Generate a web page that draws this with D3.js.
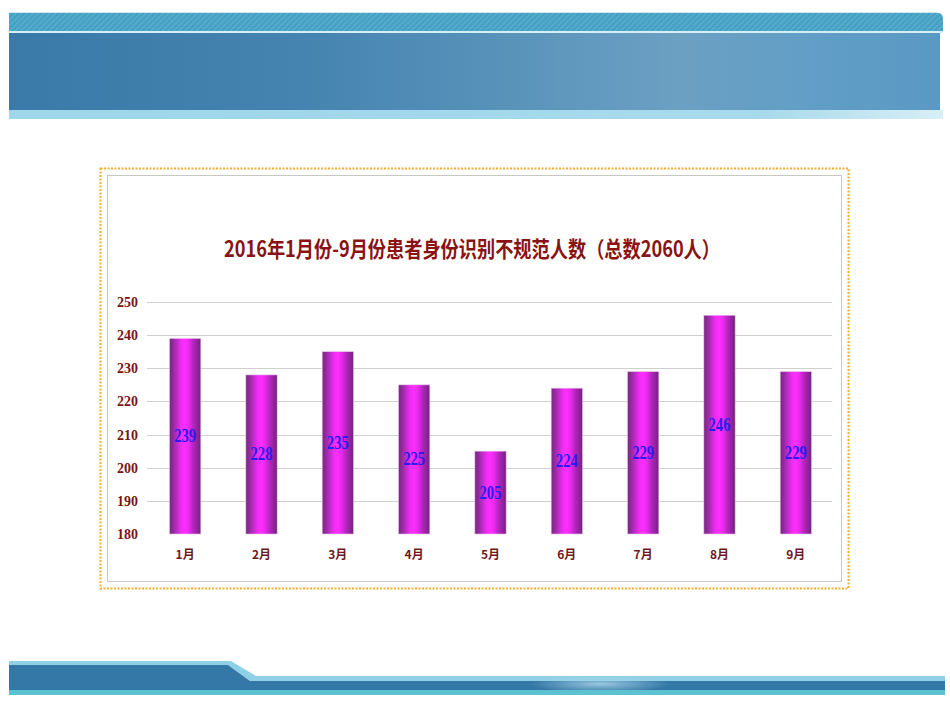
<!DOCTYPE html>
<html><head><meta charset="utf-8">
<script src="https://cdn.jsdelivr.net/npm/d3@7/dist/d3.min.js"></script>
<style>html,body{margin:0;padding:0;background:#fff;}svg{display:block;}</style>
</head><body>
<script>
const months = ["1月","2月","3月","4月","5月","6月","7月","8月","9月"];
const values = [239,228,235,225,205,224,229,246,229];
const yTicks = [180,190,200,210,220,230,240,250];
const titleText = "2016年1月份-9月份患者身份识别不规范人数（总数2060人）";

const W = 950, H = 713;
const svg = d3.select("body").append("svg").attr("width", W).attr("height", H);
const defs = svg.append("defs");

// ---- decorations: top banner ----
const hatch = defs.append("pattern").attr("id","hatch").attr("patternUnits","userSpaceOnUse")
  .attr("width",4).attr("height",4).attr("patternTransform","rotate(45)");
hatch.append("rect").attr("width",4).attr("height",4).attr("fill","#46a0c2");
hatch.append("rect").attr("width",1.3).attr("height",4).attr("fill","#5ab0cf");

const mainG = defs.append("linearGradient").attr("id","mainG").attr("x1","0").attr("x2","1").attr("y1","0").attr("y2","0");
[[0,"#3a7aa8"],[0.3,"#4483b0"],[0.5,"#5590b8"],[0.72,"#6ca0c3"],[0.85,"#629ec6"],[1,"#5a99c4"]]
  .forEach(([o,c])=>mainG.append("stop").attr("offset",o).attr("stop-color",c));

svg.append("path").attr("d","M9,12.7 H937 Q943,12.7 943,18.7 V31 H9 Z").attr("fill","url(#hatch)");
svg.append("rect").attr("x",9).attr("y",31).attr("width",934).attr("height",2).attr("fill","#d6eef6");
svg.append("rect").attr("x",9).attr("y",33).attr("width",931).attr("height",77).attr("fill","url(#mainG)");
const lowG = defs.append("linearGradient").attr("id","lowG").attr("x1","0").attr("x2","1");
[[0,"#9fd6ea"],[0.8,"#a6d9eb"],[1,"#d8eef6"]].forEach(([o,c])=>lowG.append("stop").attr("offset",o).attr("stop-color",c));
svg.append("rect").attr("x",9).attr("y",110).attr("width",934).attr("height",9).attr("fill","url(#lowG)");

// ---- decorations: bottom band ----
svg.append("path").attr("d","M9,661 H231 L256,676 H945 V681 H250 L228,665 H9 Z").attr("fill","#8fd0e6");
svg.append("path").attr("d","M9,665 H228 L250,681 H945 V690 H9 Z").attr("fill","#3478a7");
const glow = defs.append("radialGradient").attr("id","glow");
glow.append("stop").attr("offset",0).attr("stop-color","#a8d4e8").attr("stop-opacity",0.85);
glow.append("stop").attr("offset",1).attr("stop-color","#a8d4e8").attr("stop-opacity",0);
svg.append("ellipse").attr("cx",600).attr("cy",684).attr("rx",70).attr("ry",9).attr("fill","url(#glow)");
svg.append("rect").attr("x",9).attr("y",690).attr("width",936).attr("height",5).attr("fill","#5cc2d2");

// ---- chart frame ----
svg.append("rect").attr("x",100.5).attr("y",168.5).attr("width",748).attr("height",420)
  .attr("fill","none").attr("stroke","#f5b030").attr("stroke-width",2).attr("stroke-dasharray","2,1.5");
svg.append("rect").attr("x",107.5).attr("y",175.5).attr("width",734).attr("height",406)
  .attr("fill","#fff").attr("stroke","#c8c8c8").attr("stroke-width",1);

// ---- scales ----
const y = d3.scaleLinear().domain([180,250]).range([534,302]);
const x = d3.scaleBand().domain(months).range([147,834]).paddingInner(0.59).paddingOuter(0.295);

// gridlines
svg.append("g").selectAll("line").data(yTicks.filter(t=>t>180)).join("line")
  .attr("x1",147).attr("x2",832).attr("y1",d=>Math.round(y(d))+0.5).attr("y2",d=>Math.round(y(d))+0.5)
  .attr("stroke","#cfcfcf").attr("stroke-width",1);

// y axis labels
const yAxis = d3.axisLeft(y).tickValues(yTicks).tickSize(0).tickPadding(9);
const yg = svg.append("g").attr("transform","translate(147,0)").call(yAxis);
yg.select(".domain").remove();
yg.selectAll("text").attr("font-family","'Liberation Serif', serif").attr("font-size",14)
  .attr("fill","#7a1515").attr("font-weight","bold");

// x axis labels
const xAxis = d3.axisBottom(x).tickSize(0).tickPadding(16);
const xg = svg.append("g").attr("transform","translate(0,534)").call(xAxis);
xg.select(".domain").remove();
xg.selectAll("text").attr("font-family","'Noto Sans CJK SC', sans-serif").attr("font-size",12)
  .attr("fill","#6e1a1a").attr("font-weight","bold");

// bar gradient
const barG = defs.append("linearGradient").attr("id","barG").attr("x1","0").attr("x2","1").attr("y1","0").attr("y2","0");
[[0,"#7a2682"],[0.12,"#942aa0"],[0.25,"#c22ccc"],[0.38,"#f22cf4"],[0.5,"#ff2eff"],[0.62,"#e82aec"],[0.76,"#b526bf"],[0.9,"#8e249a"],[1,"#74207c"]]
  .forEach(([o,c])=>barG.append("stop").attr("offset",o).attr("stop-color",c));

svg.append("g").selectAll("rect").data(values).join("rect")
  .attr("x",(d,i)=>x(months[i])).attr("width",x.bandwidth())
  .attr("y",d=>y(d)).attr("height",d=>y(180)-y(d))
  .attr("fill","url(#barG)").attr("stroke","#e6c0ea").attr("stroke-width",0.6);

// value labels
svg.append("g").selectAll("text").data(values).join("text")
  .attr("x",(d,i)=>x(months[i])+x.bandwidth()/2)
  .attr("y",d=>(y(d)+y(180))/2)
  .attr("text-anchor","middle").attr("dominant-baseline","central")
  .attr("font-family","'Liberation Serif', serif").attr("font-size",18).attr("font-weight","bold")
  .attr("textLength",22).attr("lengthAdjust","spacingAndGlyphs")
  .attr("fill","#2a1cf0").text(d=>d);

// title
svg.append("text").attr("x",472).attr("y",247).attr("text-anchor","middle").attr("dominant-baseline","central")
  .attr("font-family","'Noto Sans CJK SC', sans-serif").attr("font-size",22).attr("font-weight","bold")
  .attr("textLength",496).attr("lengthAdjust","spacingAndGlyphs")
  .attr("fill","#8a1212").text(titleText);
</script>
</body></html>
